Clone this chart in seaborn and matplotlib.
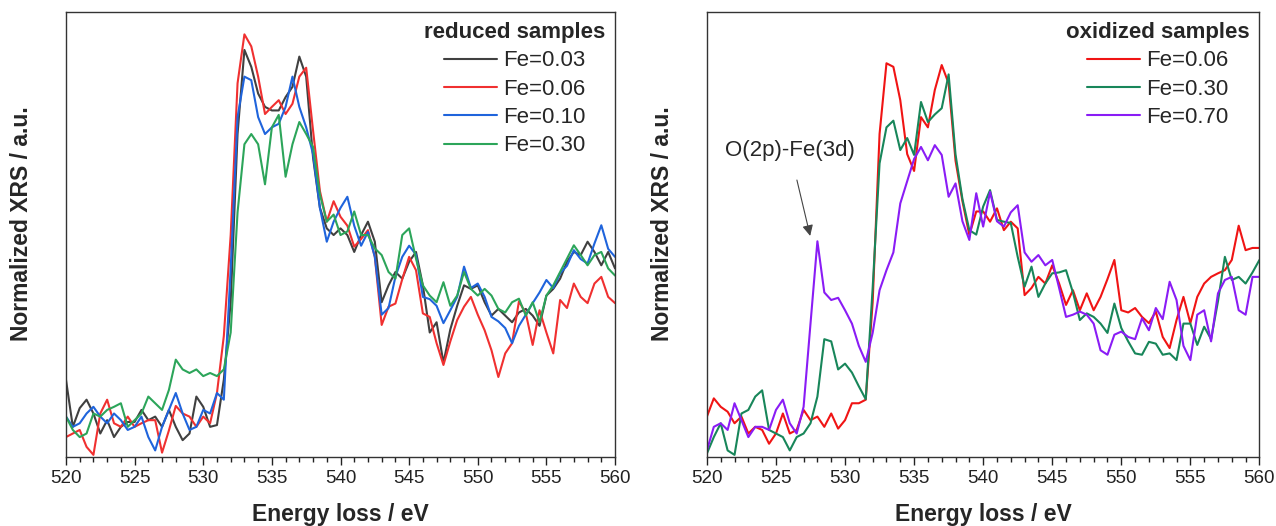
import numpy as np
import pandas as pd
import matplotlib
matplotlib.use("Agg")
import matplotlib.pyplot as plt
from matplotlib.ticker import MultipleLocator
import seaborn as sns

# energy grid, 0.5 eV steps
energy = np.arange(520.0, 560.01, 0.5)

# reduced samples (left panel), intensity in % of the axis height
red_fe003 = [17.4, 6.8, 11.0, 12.9, 9.8, 5.3, 8.3, 4.5, 6.8, 7.9,
             7.9, 10.6, 8.3, 9.1, 6.8, 10.6, 6.8, 3.8, 5.3, 13.6,
             11.3, 6.8, 7.2, 17.4, 34.8, 72.6, 91.5, 87.7, 81.7, 78.7,
             77.9, 77.9, 80.9, 83.2, 90.0, 85.5, 67.3, 56.0, 51.4, 49.9,
             51.4, 49.9, 46.1, 49.9, 52.9, 48.4, 34.8, 38.6, 41.6, 40.1,
             43.9, 46.1, 38.6, 28.0, 30.3, 21.2, 28.7, 34.0, 38.6, 37.8,
             38.6, 34.8, 31.8, 33.3, 31.8, 30.3, 32.5, 33.3, 31.8, 29.5,
             36.3, 37.8, 40.1, 43.9, 46.1, 45.4, 48.4, 46.1, 43.1, 46.1,
             42.4]
red_fe006 = [4.5, 5.3, 6.1, 2.3, 0.5, 9.8, 12.9, 7.6, 6.8, 9.1,
             6.8, 7.6, 8.3, 8.3, 1.0, 6.0, 11.5, 9.8, 9.1, 6.8,
             9.1, 7.6, 14.4, 27.2, 49.9, 84.0, 95.0, 92.3, 85.5, 77.1,
             78.7, 80.2, 77.1, 79.4, 85.5, 87.5, 73.4, 59.8, 52.9, 57.5,
             54.0, 52.0, 47.3, 49.0, 51.0, 45.0, 29.7, 33.8, 34.5, 40.0,
             45.0, 42.0, 32.3, 31.5, 25.6, 20.7, 26.0, 30.8, 33.8, 36.0,
             32.0, 28.5, 24.0, 18.0, 23.3, 25.6, 35.0, 32.3, 25.2, 33.0,
             28.0, 23.3, 35.3, 33.5, 39.0, 36.0, 34.6, 39.0, 40.5, 36.0,
             34.6]
red_fe010 = [9.1, 6.8, 7.6, 9.8, 11.3, 9.1, 7.6, 9.8, 8.3, 6.1,
             6.8, 9.1, 4.5, 1.5, 6.8, 10.6, 14.4, 9.8, 6.1, 6.8,
             10.6, 9.8, 14.4, 12.9, 42.4, 76.4, 85.5, 84.7, 76.4, 72.6,
             74.1, 74.9, 78.7, 85.5, 78.7, 74.1, 68.1, 56.0, 48.4, 52.9,
             56.0, 58.5, 52.0, 47.5, 50.6, 45.0, 32.0, 33.5, 40.5, 45.0,
             47.5, 45.5, 36.0, 35.5, 34.0, 30.1, 33.0, 36.0, 42.8, 38.0,
             39.0, 36.0, 31.5, 30.5, 29.0, 25.6, 29.5, 32.0, 34.6, 37.0,
             39.8, 38.0, 41.3, 43.0, 46.5, 44.5, 43.5, 48.0, 52.1, 46.8,
             45.0]
red_fe030 = [9.1, 6.1, 4.5, 5.3, 9.8, 9.1, 10.6, 11.3, 12.1, 6.8,
             8.3, 9.8, 13.6, 12.1, 10.6, 15.1, 21.9, 19.7, 18.9, 19.7,
             18.2, 18.9, 18.2, 19.7, 28.0, 55.0, 70.3, 72.6, 70.3, 61.3,
             74.1, 76.9, 63.0, 70.3, 75.3, 72.6, 69.7, 59.0, 52.9, 54.5,
             49.9, 50.7, 55.2, 49.9, 49.9, 46.9, 45.4, 41.6, 40.1, 49.9,
             51.4, 44.6, 38.6, 36.3, 34.8, 39.3, 34.0, 36.3, 41.6, 37.8,
             36.3, 37.8, 36.3, 33.3, 32.5, 34.8, 35.6, 31.8, 34.8, 30.3,
             36.3, 38.6, 41.6, 44.6, 47.6, 45.4, 43.1, 45.4, 46.1, 42.4,
             40.8]

# oxidized samples (right panel)
ox_fe006 = [9.1, 13.2, 11.3, 10.2, 7.6, 9.1, 5.3, 6.8, 6.1, 3.0,
            5.3, 9.8, 5.3, 6.1, 10.6, 8.3, 9.1, 6.8, 9.8, 6.4,
            8.3, 12.1, 12.1, 12.9, 34.8, 72.6, 88.5, 87.7, 80.2, 68.1,
            64.3, 76.4, 74.1, 82.5, 88.1, 84.0, 66.6, 57.5, 49.9, 55.2,
            55.2, 52.9, 55.9, 51.0, 52.9, 51.4, 36.4, 38.0, 40.5, 39.0,
            43.1, 39.0, 34.2, 37.5, 33.0, 36.8, 33.0, 36.0, 40.0, 44.3,
            33.0, 32.5, 33.5, 31.5, 30.1, 32.7, 27.0, 24.5, 30.8, 36.0,
            30.1, 36.0, 39.0, 40.5, 41.3, 42.0, 44.3, 52.0, 46.5, 47.0,
            47.0]
ox_fe030 = [0.8, 4.5, 7.6, 1.5, 0.5, 9.8, 10.6, 13.6, 15.0, 6.1,
            5.3, 4.5, 1.5, 4.5, 5.3, 7.6, 13.6, 26.5, 26.0, 19.7,
            21.0, 19.0, 15.9, 13.0, 38.0, 66.0, 74.1, 75.6, 69.0, 71.7,
            67.9, 79.8, 75.3, 77.0, 78.4, 86.0, 68.0, 58.0, 51.0, 50.0,
            56.3, 60.0, 53.3, 52.9, 52.6, 45.0, 38.3, 42.8, 36.0, 39.0,
            41.3, 41.5, 42.0, 37.0, 30.8, 32.3, 31.5, 30.0, 27.9, 34.5,
            29.0, 26.0, 23.3, 23.0, 25.9, 25.5, 23.0, 23.3, 21.8, 30.0,
            30.0, 25.2, 29.3, 26.5, 35.0, 45.0, 39.8, 40.5, 39.0, 41.5,
            44.3]
ox_fe070 = [1.5, 6.8, 7.6, 6.1, 12.1, 8.3, 4.5, 6.8, 6.8, 6.1,
            10.6, 12.9, 7.6, 5.3, 11.3, 30.0, 48.5, 37.0, 35.3, 35.8,
            33.0, 30.0, 25.0, 21.4, 27.9, 37.5, 42.0, 46.0, 57.0, 62.0,
            67.0, 69.7, 66.7, 70.1, 67.9, 58.5, 61.5, 53.0, 48.8, 59.3,
            51.8, 59.6, 53.0, 51.8, 55.0, 56.6, 46.0, 43.9, 45.4, 43.1,
            44.3, 38.0, 31.5, 32.0, 32.7, 32.0, 30.0, 24.0, 23.0, 27.5,
            28.2, 27.0, 26.5, 31.2, 28.5, 33.5, 31.0, 39.4, 35.3, 25.0,
            21.8, 32.0, 33.0, 26.0, 36.8, 39.8, 40.5, 33.0, 32.0, 40.5,
            40.5]

reduced_labels = ["Fe=0.03", "Fe=0.06", "Fe=0.10", "Fe=0.30"]
oxidized_labels = ["Fe=0.06", "Fe=0.30", "Fe=0.70"]

reduced = pd.concat([pd.DataFrame({"energy": energy, "xrs": v, "sample": lab})
                     for v, lab in zip([red_fe003, red_fe006, red_fe010, red_fe030], reduced_labels)])
oxidized = pd.concat([pd.DataFrame({"energy": energy, "xrs": v, "sample": lab})
                      for v, lab in zip([ox_fe006, ox_fe030, ox_fe070], oxidized_labels)])

sns.set_style("ticks")
plt.rcParams["font.family"] = ["Liberation Sans", "DejaVu Sans"]

fig = plt.figure(figsize=(12.76, 5.26), dpi=100)
ax1 = fig.add_axes([0.0517, 0.131, 0.4303, 0.846])
ax2 = fig.add_axes([0.554, 0.131, 0.433, 0.846])

sns.lineplot(data=reduced, x="energy", y="xrs", hue="sample", ax=ax1, linewidth=1.5,
             palette=["#404040", "#f03030", "#1f64dc", "#2ca55a"], estimator=None)
sns.lineplot(data=oxidized, x="energy", y="xrs", hue="sample", ax=ax2, linewidth=1.5,
             palette=["#f01414", "#18865a", "#8a1cf5"], estimator=None)

for ax, title in [(ax1, "reduced samples"), (ax2, "oxidized samples")]:
    ax.set_xlim(520, 560)
    ax.set_ylim(0, 100)
    ax.xaxis.set_major_locator(MultipleLocator(5))
    ax.xaxis.set_minor_locator(MultipleLocator(1))
    ax.tick_params(axis="x", which="major", direction="out", length=6, width=1, labelsize=13.5, colors="#222222")
    ax.tick_params(axis="x", which="minor", direction="out", length=3.5, width=1, colors="#222222")
    ax.set_yticks([])
    for s in ax.spines.values():
        s.set_color("#333333")
        s.set_linewidth(1.0)
    ax.set_xlabel("Energy loss / eV", fontsize=16.5, fontweight="bold", labelpad=11)
    ax.set_ylabel("Normalized XRS / a.u.", fontsize=16.5, fontweight="bold")
    ax.yaxis.set_label_coords(-0.06, 0.525)
    leg = ax.legend(title=title, loc="upper right", frameon=False, fontsize=16,
                    title_fontsize=16, handlelength=2.4, handletextpad=0.27,
                    labelspacing=0.33, borderaxespad=0.15, borderpad=0.3)
    leg.get_title().set_fontweight("bold")

ax2.annotate("O(2p)-Fe(3d)", xy=(527.5, 49.4), xytext=(526.0, 69.0),
             ha="center", va="center", fontsize=16,
             arrowprops=dict(arrowstyle="-|>", color="#444444", lw=0.8, shrinkA=12, shrinkB=1))

fig.savefig("out.png", dpi=100)
